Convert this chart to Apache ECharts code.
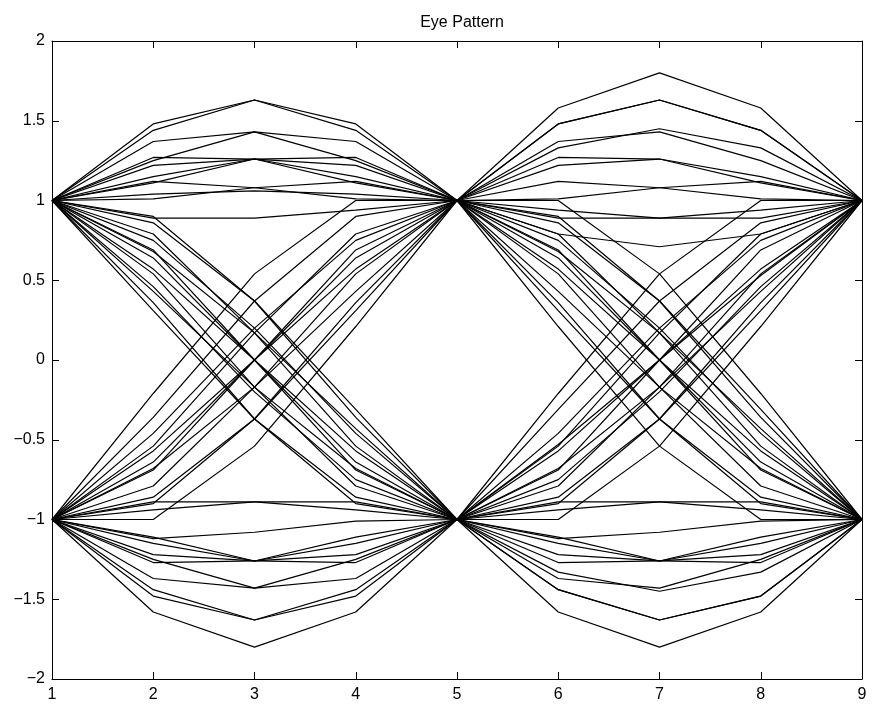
<!DOCTYPE html>
<html>
<head>
<meta charset="utf-8">
<script src="https://cdn.jsdelivr.net/npm/echarts@6/dist/echarts.min.js"></script>
<style>html,body{margin:0;padding:0;background:#fff}#c{width:873px;height:707px}</style>
</head>
<body>
<div id="c"></div>
<script>
// sample positions of each half-trace
const leftX = [1, 2, 3, 4, 5];
const rightX = [5, 6, 7, 8, 9];
const xTicks = [1, 2, 3, 4, 5, 6, 7, 8, 9];
const yTicks = [-2, -1.5, -1, -0.5, 0, 0.5, 1, 1.5, 2];

// left half (+1 -> +1)
const leftUpper = [
  [1, 1.48, 1.63, 1.44, 1],
  [1, 1.44, 1.63, 1.48, 1],
  [1, 1.37, 1.43, 1.25, 1],
  [1, 1.25, 1.43, 1.37, 1],
  [1, 1.27, 1.26, 1.11, 1],
  [1, 1.22, 1.26, 1.15, 1],
  [1, 1.15, 1.26, 1.22, 1],
  [1, 1.11, 1.26, 1.27, 1],
  [1, 1.12, 1.08, 1.01, 1],
  [1, 1.01, 1.08, 1.12, 1],
  [1, 1.04, 1.06, 1.04, 1],
  [1, 0.89, 0.89, 0.94, 1]
];
// left half (+1 -> -1)
const leftDown = [
  [1, 0.86, 0.37, -0.31, -1],
  [1, 0.90, 0.37, -0.36, -1],
  [1, 0.75, 0.20, -0.46, -1],
  [1, 0.79, 0.17, -0.54, -1],
  [1, 0.69, 0, -0.69, -1],
  [1, 0.64, 0, -0.64, -1],
  [1, 0.54, -0.17, -0.79, -1],
  [1, 0.68, 0.17, -0.43, -1],
  [1, 0.57, 0, -0.57, -1],
  [1, 0.43, -0.17, -0.68, -1],
  [1, 0.36, -0.37, -0.90, -1],
  [1, 0.46, -0.20, -0.75, -1],
  [1, 0.31, -0.37, -0.86, -1]
];
// left half (-1 -> +1)
const leftUp = [
  [-1, -0.21, 0.54, 1.00, 1],
  [-1, -1.00, -0.54, 0.21, 1],
  [-1, -0.86, -0.37, 0.31, 1],
  [-1, -0.46, 0.20, 0.75, 1],
  [-1, -0.69, 0, 0.69, 1],
  [-1, -0.57, 0, 0.57, 1],
  [-1, -0.79, -0.17, 0.54, 1],
  [-1, -0.54, 0.17, 0.79, 1],
  [-1, -0.68, -0.17, 0.43, 1],
  [-1, -0.36, 0.37, 0.90, 1],
  [-1, -0.64, 0, 0.64, 1],
  [-1, -0.90, -0.37, 0.36, 1]
];
// left half (-1 -> -1)
const leftLower = [
  [-1, -1.58, -1.80, -1.58, -1],
  [-1, -1.48, -1.63, -1.44, -1],
  [-1, -1.44, -1.63, -1.48, -1],
  [-1, -1.37, -1.43, -1.25, -1],
  [-1, -1.25, -1.43, -1.37, -1],
  [-1, -1.22, -1.26, -1.15, -1],
  [-1, -1.27, -1.26, -1.11, -1],
  [-1, -1.15, -1.26, -1.22, -1],
  [-1, -1.11, -1.26, -1.27, -1],
  [-1, -1.12, -1.08, -1.01, -1],
  [-1, -0.94, -0.89, -0.89, -1],
  [-1, -0.89, -0.89, -0.94, -1]
];
// right half (+1 -> +1)
const rightUpper = [
  [1, 1.58, 1.80, 1.58, 1],
  [1, 1.48, 1.63, 1.44, 1],
  [1, 1.48, 1.63, 1.44, 1],
  [1, 1.33, 1.45, 1.33, 1],
  [1, 1.37, 1.43, 1.25, 1],
  [1, 1.27, 1.26, 1.11, 1],
  [1, 1.22, 1.26, 1.15, 1],
  [1, 1.12, 1.08, 1.01, 1],
  [1, 1.01, 1.08, 1.12, 1],
  [1, 0.89, 0.89, 0.94, 1],
  [1, 0.94, 0.89, 0.89, 1],
  [1, 0.79, 0.71, 0.79, 1]
];
// right half (+1 -> -1)
const rightDown = [
  [1, 1.00, 0.54, -0.21, -1],
  [1, 0.21, -0.54, -1.00, -1],
  [1, 0.86, 0.37, -0.31, -1],
  [1, 0.90, 0.37, -0.36, -1],
  [1, 0.75, 0.20, -0.46, -1],
  [1, 0.69, 0, -0.69, -1],
  [1, 0.64, 0, -0.64, -1],
  [1, 0.57, 0, -0.57, -1],
  [1, 0.68, 0.17, -0.43, -1],
  [1, 0.43, -0.17, -0.68, -1],
  [1, 0.54, -0.17, -0.79, -1],
  [1, 0.36, -0.37, -0.90, -1],
  [1, 0.31, -0.37, -0.86, -1],
  [1, 0.79, 0.17, -0.54, -1]
];
// right half (-1 -> +1)
const rightUp = [
  [-1, -0.21, 0.54, 1.00, 1],
  [-1, -1.00, -0.54, 0.21, 1],
  [-1, -0.86, -0.37, 0.31, 1],
  [-1, -0.31, 0.37, 0.86, 1],
  [-1, -0.69, 0, 0.69, 1],
  [-1, -0.57, 0, 0.57, 1],
  [-1, -0.53, 0, 0.53, 1],
  [-1, -0.75, -0.20, 0.46, 1],
  [-1, -0.46, 0.20, 0.75, 1],
  [-1, -0.68, -0.17, 0.43, 1],
  [-1, -0.54, 0.17, 0.79, 1],
  [-1, -0.79, -0.17, 0.54, 1],
  [-1, -0.90, -0.37, 0.36, 1]
];
// right half (-1 -> -1)
const rightLower = [
  [-1, -1.58, -1.80, -1.58, -1],
  [-1, -1.44, -1.63, -1.48, -1],
  [-1, -1.44, -1.63, -1.48, -1],
  [-1, -1.33, -1.45, -1.33, -1],
  [-1, -1.37, -1.43, -1.25, -1],
  [-1, -1.22, -1.26, -1.15, -1],
  [-1, -1.27, -1.26, -1.11, -1],
  [-1, -1.15, -1.26, -1.22, -1],
  [-1, -1.11, -1.26, -1.27, -1],
  [-1, -1.12, -1.08, -1.01, -1],
  [-1, -0.89, -0.89, -0.94, -1],
  [-1, -0.94, -0.89, -0.89, -1]
];

const FONT = '"Liberation Sans", Arial, Helvetica, sans-serif';
const series = [];
function addGroup(rows, xs) {
  rows.forEach(function (row) {
    series.push({
      type: 'line',
      data: row.map(function (v, i) { return [xs[i], v]; }),
      showSymbol: false,
      symbol: 'none',
      silent: true,
      lineStyle: { color: '#000', width: 1.2 },
      emphasis: { disabled: true }
    });
  });
}
addGroup(leftUpper, leftX);
addGroup(leftDown, leftX);
addGroup(leftUp, leftX);
addGroup(leftLower, leftX);
addGroup(rightUpper, rightX);
addGroup(rightDown, rightX);
addGroup(rightUp, rightX);
addGroup(rightLower, rightX);

function fmt(v) { return String(v).replace('-', '\u2212'); }
const axisCommon = {
  type: 'value',
  axisLine: { show: true, onZero: false, lineStyle: { color: '#000', width: 1 } },
  axisTick: { show: true, inside: true, length: 7, lineStyle: { color: '#000', width: 1 } },
  splitLine: { show: false }
};

const chart = echarts.init(document.getElementById('c'), null, { renderer: 'canvas' });
chart.setOption({
  animation: false,
  backgroundColor: '#fff',
  title: {
    text: 'Eye Pattern', left: 457, top: 10, textAlign: 'center',
    textStyle: { fontFamily: FONT, fontSize: 16, fontWeight: 'normal', color: '#000' }
  },
  grid: { left: 52, right: 11, top: 41, bottom: 28, containLabel: false },
  xAxis: [
    Object.assign({}, axisCommon, {
      position: 'bottom', min: xTicks[0], max: xTicks[xTicks.length - 1], interval: 1,
      axisLabel: { margin: 8, color: '#000', fontFamily: FONT, fontSize: 16, formatter: fmt }
    }),
    Object.assign({}, axisCommon, {
      position: 'top', min: xTicks[0], max: xTicks[xTicks.length - 1], interval: 1,
      axisLabel: { show: false }
    })
  ],
  yAxis: [
    Object.assign({}, axisCommon, {
      position: 'left', min: yTicks[0], max: yTicks[yTicks.length - 1], interval: 0.5,
      axisLabel: { margin: 7, color: '#000', fontFamily: FONT, fontSize: 16, formatter: fmt }
    }),
    Object.assign({}, axisCommon, {
      position: 'right', min: yTicks[0], max: yTicks[yTicks.length - 1], interval: 0.5,
      axisLabel: { show: false }
    })
  ],
  series: series
});
</script>
</body>
</html>
